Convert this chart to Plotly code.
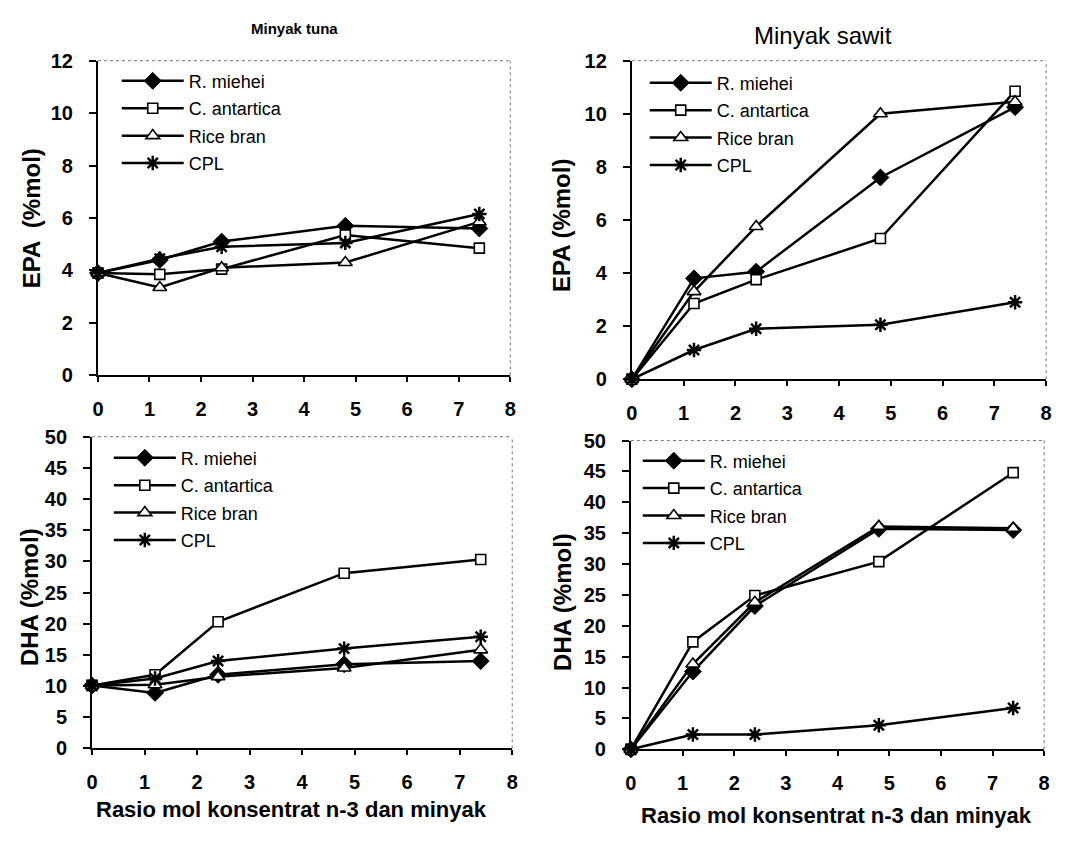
import plotly.graph_objects as go

# ---------------- data ----------------
x_ratio = [0, 1.2, 2.4, 4.8, 7.4]
series_names = ["R. miehei", "C. antartica", "Rice bran", "CPL"]

tuna_epa_rmiehei = [3.9, 4.4, 5.1, 5.7, 5.6]
tuna_epa_cantartica = [3.9, 3.85, 4.05, 5.35, 4.85]
tuna_epa_ricebran = [3.9, 3.35, 4.1, 4.3, 5.85]
tuna_epa_cpl = [3.9, 4.45, 4.9, 5.05, 6.15]

sawit_epa_rmiehei = [0, 3.8, 4.05, 7.6, 10.25]
sawit_epa_cantartica = [0, 2.85, 3.75, 5.3, 10.85]
sawit_epa_ricebran = [0, 3.3, 5.75, 10.0, 10.45]
sawit_epa_cpl = [0, 1.1, 1.9, 2.05, 2.9]

tuna_dha_rmiehei = [10.1, 8.9, 11.8, 13.5, 14.0]
tuna_dha_cantartica = [10.1, 11.8, 20.3, 28.1, 30.3]
tuna_dha_ricebran = [10.1, 10.2, 11.5, 12.9, 15.8]
tuna_dha_cpl = [10.1, 11.2, 14.0, 16.0, 17.9]

sawit_dha_rmiehei = [0, 12.6, 23.2, 35.7, 35.5]
sawit_dha_cantartica = [0, 17.4, 24.9, 30.4, 44.8]
sawit_dha_ricebran = [0, 13.8, 23.8, 36.1, 35.8]
sawit_dha_cpl = [0, 2.4, 2.4, 3.9, 6.7]

epa_ticks = [0, 2, 4, 6, 8, 10, 12]
dha_ticks = [0, 5, 10, 15, 20, 25, 30, 35, 40, 45, 50]
x_ticks = [0, 1, 2, 3, 4, 5, 6, 7, 8]

# ---------------- layout helpers ----------------
W, H = 1065, 848
FONT = "Liberation Sans, Arial, sans-serif"


def fx(px):
    return px / W


def fy(py):
    return 1 - py / H


styles = [
    dict(symbol="diamond", size=13, color="black", line=dict(color="black", width=1)),
    dict(symbol="square", size=10, color="white", line=dict(color="black", width=1.6)),
    dict(symbol="triangle-up", size=12, color="white", line=dict(color="black", width=1.6)),
    dict(symbol="asterisk-open", size=12, color="black", line=dict(color="black", width=2.5)),
]

panels = [
    # (series lists, xaxis id, yaxis id, legend id, x-domain px, y-domain px, ymax, yticks, legend pos px)
    ([tuna_epa_rmiehei, tuna_epa_cantartica, tuna_epa_ricebran, tuna_epa_cpl],
     "x", "y", "legend", (93, 510), (51, 374), 12, epa_ticks, (112, 53)),
    ([sawit_epa_rmiehei, sawit_epa_cantartica, sawit_epa_ricebran, sawit_epa_cpl],
     "x2", "y2", "legend2", (633, 1052), (51, 378), 12, epa_ticks, (646, 55)),
    ([tuna_dha_rmiehei, tuna_dha_cantartica, tuna_dha_ricebran, tuna_dha_cpl],
     "x3", "y3", "legend3", (87, 512), (437, 757), 50, dha_ticks, (104, 440)),
    ([sawit_dha_rmiehei, sawit_dha_cantartica, sawit_dha_ricebran, sawit_dha_cpl],
     "x4", "y4", "legend4", (632, 1050), (441, 758), 50, dha_ticks, (639, 443)),
]

fig = go.Figure()
layout = dict(
    width=W, height=H,
    margin=dict(l=0, r=0, t=0, b=0),
    paper_bgcolor="white", plot_bgcolor="white",
    font=dict(family=FONT, color="black"),
    shapes=[], annotations=[],
)

for pi, (series, xa, ya, lg, xd, yd, ymax, yt, lpos) in enumerate(panels):
    for si, (name, vals) in enumerate(zip(series_names, series)):
        fig.add_trace(go.Scatter(
            x=x_ratio, y=vals, name=name, mode="lines+markers",
            line=dict(color="black", width=2.5),
            marker=styles[si],
            xaxis=xa, yaxis=ya, legend=lg,
            legendgroup=f"p{pi}_{si}",
            cliponaxis=False,
        ))
    xk = "xaxis" if xa == "x" else "xaxis" + xa[1:]
    yk = "yaxis" if ya == "y" else "yaxis" + ya[1:]
    layout[xk] = dict(
        domain=[fx(xd[0]), fx(xd[1])], range=[0, 8], anchor=ya,
        tickvals=x_ticks, ticks="outside", ticklen=5, tickwidth=1.5, tickcolor="black",
        showline=True, linecolor="black", linewidth=2, showgrid=False, zeroline=False,
        tickfont=dict(family=FONT, size=20, color="black", weight="bold"),
        ticklabelstandoff=10,
    )
    layout[yk] = dict(
        domain=[fy(yd[1]), fy(yd[0])], range=[0, ymax], anchor=xa,
        tickvals=yt, ticks="outside", ticklen=7, tickwidth=1.5, tickcolor="black",
        showline=True, linecolor="black", linewidth=2, showgrid=False, zeroline=False,
        tickfont=dict(family=FONT, size=20, color="black", weight="bold"),
        ticklabelstandoff=12,
    )
    layout[lg] = dict(
        x=fx(lpos[0]), y=fy(lpos[1]), xanchor="left", yanchor="top",
        bgcolor="rgba(0,0,0,0)", borderwidth=0,
        font=dict(family=FONT, size=18, color="black"),
        itemwidth=62, tracegroupgap=1, traceorder="grouped",
    )
    # dotted top & right frame
    xr = xa + " domain"
    yr = ya + " domain"
    layout["shapes"].append(dict(type="line", xref=xr, yref=yr, x0=0, x1=1, y0=1, y1=1,
                                 line=dict(color="#777", width=1, dash="dot")))
    layout["shapes"].append(dict(type="line", xref=xr, yref=yr, x0=1, x1=1, y0=0, y1=1,
                                 line=dict(color="#777", width=1, dash="dot")))


def ann(text, px, py, size, bold=True, angle=0):
    return dict(text=text, x=fx(px), y=fy(py), xref="paper", yref="paper",
                xanchor="center", yanchor="middle", showarrow=False, textangle=angle,
                font=dict(family=FONT, size=size, color="black",
                          weight="bold" if bold else "normal"))


layout["annotations"] += [
    ann("Minyak tuna", 292, 18, 15, True),
    ann("Minyak sawit", 826, 25, 24, False),
    ann("EPA  (%mol)", 26, 213, 24, True, -90),
    ann("EPA (%mol)", 562, 220, 24, True, -90),
    ann("DHA (%mol)", 24, 602, 24, True, -90),
    ann("DHA (%mol)", 563, 607, 24, True, -90),
    ann("Rasio mol konsentrat n-3 dan minyak", 289, 820, 22, True),
    ann("Rasio mol konsentrat n-3 dan minyak", 840, 826, 22, True),
]

fig.update_layout(**layout)
fig.write_html("out.html", config={"displayModeBar": False},
               post_script="document.body.style.margin='0';")
